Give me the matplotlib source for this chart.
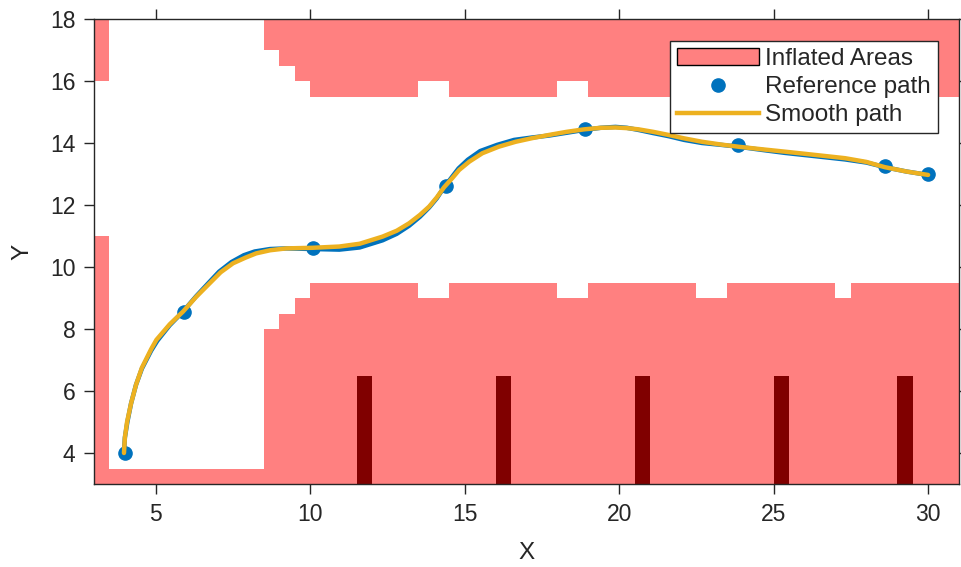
import numpy as np
import matplotlib
matplotlib.use("Agg")
import matplotlib.pyplot as plt
from matplotlib.colors import ListedColormap
from matplotlib.patches import Patch
from matplotlib.lines import Line2D

plt.rcParams['font.family'] = ['Liberation Sans', 'DejaVu Sans']

# ---- map data (0.5 m cells, x from 3 to 31, y from 3 to 18) ----
cell = 0.5
x_min, x_max, y_min, y_max = 3.0, 31.0, 3.0, 18.0
# upper edge of lower inflated region, per column
lower_top = ([11.0] + [3.5] * 10 + [8.0, 8.5, 9.0] + [9.5] * 7 + [9.0] * 2 + [9.5] * 7
             + [9.0] * 2 + [9.5] * 7 + [9.0] * 2 + [9.5] * 7 + [9.0] + [9.5] * 7)
# lower edge of upper inflated region, per column
upper_bottom = ([16.0] + [18.0] * 10 + [17.0, 16.5, 16.0] + [15.5] * 7 + [16.0] * 2 + [15.5] * 7
                + [16.0] * 2 + [15.5] * 7 + [16.0] * 2 + [15.5] * 7 + [16.0] + [15.5] * 7)
# obstacles (dark red): left edges and top
obstacle_left = [11.5, 16.0, 20.5, 25.0, 29.0]
obstacle_top = 6.5

# ---- paths ----
ref_x = [4.0, 5.9, 10.1, 14.4, 18.9, 23.85, 28.6, 30.0]
ref_y = [4.0, 8.55, 10.6, 12.6, 14.45, 13.95, 13.25, 13.0]

ref_line_x = [3.97, 4.0, 4.08, 4.2, 4.36, 4.55, 4.85, 5.05, 5.45, 5.88, 6.3, 6.72, 7.05, 7.45,
              7.85, 8.2, 8.7, 9.22, 10.08, 10.94, 11.6, 12.34, 12.8, 13.2, 13.55, 13.85, 14.1,
              14.33, 14.6, 14.8, 15.1, 15.5, 16.05, 16.6, 17.2, 17.73, 18.3, 18.86, 19.4, 19.88,
              20.25, 20.63, 21.1, 21.6, 22.1, 22.68, 23.3, 23.86, 24.6, 25.37, 26.3, 27.31, 28.0,
              28.6, 29.3, 30.0]
ref_line_y = [4.0, 4.5, 5.0, 5.6, 6.2, 6.72, 7.3, 7.62, 8.12, 8.56, 9.05, 9.5, 9.85, 10.16,
              10.38, 10.5, 10.58, 10.6, 10.58, 10.56, 10.63, 10.86, 11.07, 11.33, 11.62, 11.92,
              12.22, 12.57, 12.92, 13.18, 13.46, 13.74, 13.94, 14.1, 14.18, 14.24, 14.33, 14.42,
              14.49, 14.52, 14.49, 14.42, 14.32, 14.22, 14.1, 14.0, 13.94, 13.88, 13.78, 13.68,
              13.58, 13.47, 13.37, 13.22, 13.08, 12.97]

smooth_x = [3.97, 4.0, 4.07, 4.2, 4.36, 4.55, 4.85, 5.02, 5.45, 5.88, 6.3, 6.74, 7.1, 7.5, 7.9,
            8.25, 8.7, 9.22, 10.08, 10.94, 11.6, 12.34, 12.8, 13.2, 13.55, 13.85, 14.1, 14.33,
            14.6, 14.82, 15.15, 15.57, 16.1, 16.65, 17.2, 17.73, 18.3, 18.86, 19.4, 19.88, 20.25,
            20.63, 21.1, 21.6, 22.1, 22.68, 23.3, 23.86, 24.6, 25.37, 26.3, 27.31, 28.0, 28.6,
            29.3, 30.0]
smooth_y = [4.0, 4.5, 5.0, 5.6, 6.2, 6.75, 7.35, 7.65, 8.15, 8.56, 9.03, 9.47, 9.83, 10.12,
            10.3, 10.44, 10.54, 10.6, 10.62, 10.66, 10.75, 10.98, 11.17, 11.41, 11.68, 11.95,
            12.25, 12.57, 12.87, 13.13, 13.4, 13.67, 13.88, 14.04, 14.16, 14.26, 14.36, 14.44,
            14.49, 14.5, 14.48, 14.44, 14.36, 14.26, 14.15, 14.04, 13.95, 13.88, 13.8, 13.72,
            13.62, 13.51, 13.39, 13.22, 13.08, 12.97]

# ---- build occupancy grid ----
nx = int(round((x_max - x_min) / cell))
ny = int(round((y_max - y_min) / cell))
grid = np.zeros((ny, nx))
xc = x_min + cell * (np.arange(nx) + 0.5)
yc = y_min + cell * (np.arange(ny) + 0.5)
for i in range(nx):
    grid[yc < lower_top[i], i] = 1
    grid[yc > upper_bottom[i], i] = 1
for xl in obstacle_left:
    cols = (xc > xl) & (xc < xl + cell)
    rows = yc < obstacle_top
    grid[np.ix_(rows, cols)] = 2

fig = plt.figure(figsize=(9.62, 5.67), dpi=100)
ax = fig.add_axes([94 / 962, 1 - 484 / 567, 865 / 962, 465 / 567])

cmap = ListedColormap(['white', '#FF8080', '#800000'])
ax.imshow(grid, origin='lower', extent=[x_min, x_max, y_min, y_max], cmap=cmap,
          vmin=0, vmax=2, interpolation='nearest', aspect='auto', zorder=1)

blue = '#0072BD'
orange = '#EDB120'
ax.plot(ref_line_x, ref_line_y, color=blue, lw=3.2, zorder=2,
        solid_capstyle='round', solid_joinstyle='round')
ax.plot(ref_x, ref_y, 'o', color=blue, ms=9.5, zorder=3)
ax.plot(smooth_x, smooth_y, color=orange, lw=3.2, zorder=4,
        solid_joinstyle='round', solid_capstyle='round')

ax.set_xlim(x_min, x_max)
ax.set_ylim(y_min, y_max)
ax.set_xticks([5, 10, 15, 20, 25, 30])
ax.set_yticks([4, 6, 8, 10, 12, 14, 16, 18])
gray = '#262626'
ax.tick_params(direction='out', length=7.5, width=1, colors=gray, labelsize=16.5,
               top=True, right=True, labeltop=False, labelright=False, pad=6)
for s in ax.spines.values():
    s.set_color(gray)
    s.set_linewidth(1.0)
ax.set_xlabel('X', fontsize=17.5, color=gray, labelpad=12)
ax.set_ylabel('Y', fontsize=17.5, color=gray, labelpad=12)

handles = [Patch(facecolor='#FF8080', edgecolor='black', lw=1),
           Line2D([], [], marker='o', ls='none', color=blue, ms=9.5),
           Line2D([], [], color=orange, lw=3.2)]
leg = ax.legend(handles, ['Inflated Areas', 'Reference path', 'Smooth path'],
                loc='upper right', bbox_to_anchor=(0.9757, 0.9527), borderaxespad=0,
                fontsize=17.5, fancybox=False, framealpha=1, edgecolor=gray,
                handlelength=3.4, handletextpad=0.25, labelspacing=0.26, borderpad=0.28)
leg.get_frame().set_linewidth(1.0)
for t in leg.get_texts():
    t.set_color(gray)

fig.savefig('out.png', dpi=100)
